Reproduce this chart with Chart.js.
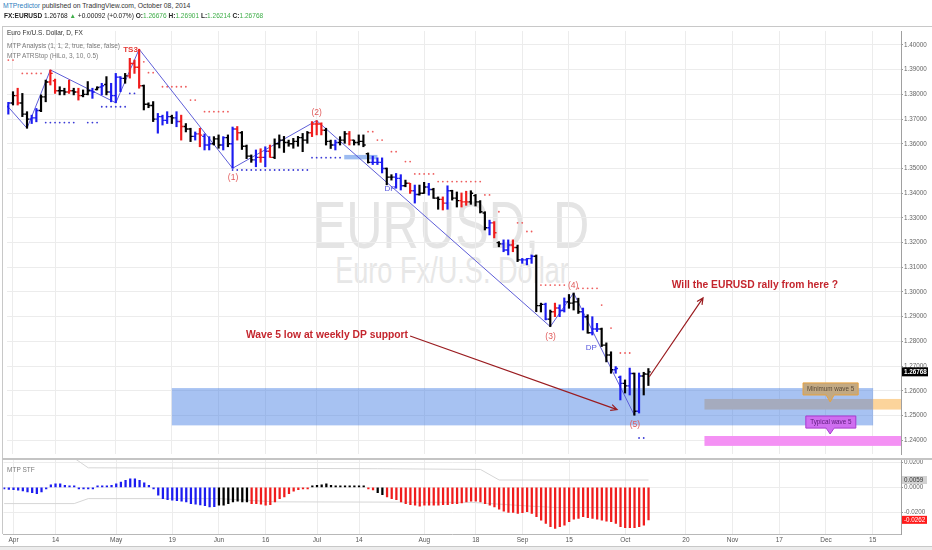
<!DOCTYPE html>
<html>
<head>
<meta charset="utf-8">
<title>EURUSD, D</title>
<script src="https://cdn.jsdelivr.net/npm/chart.js@4.4.1/dist/chart.umd.min.js"></script>
<style>
  html, body { margin: 0; padding: 0; }
  body { width: 932px; height: 550px; overflow: hidden; position: relative; background: #fff;
         font-family: "Liberation Sans", Arial, sans-serif; }
  .txt { position: absolute; white-space: nowrap; line-height: 1; }
  .rule { position: absolute; }
  #hdr1 { left: 3px; top: 2.6px; font-size: 6.8px; color: #333; }
  #hdr1 span { color: #2f80c0; }
  #hdr2 { left: 4px; top: 13.4px; font-size: 6.55px; color: #222; }
  #hdr2 .g { color: #3fae49; }
  #wm1 { left: 451px; top: 224px; font-size: 67px; color: #e4e4e4; transform: translate(-50%, -50%) scaleX(0.75); }
  #wm2 { left: 452px; top: 271px; font-size: 37.7px; color: #e7e7e7; transform: translate(-50%, -50%) scaleX(0.72); }
  .leg { left: 7px; font-size: 6.5px; color: #7a7a7a; }
  #priceChart { position: absolute; left: 3px; top: 27px; }
  #stfChart { position: absolute; left: 3px; top: 459px; }
</style>
</head>
<body>
<div id="wm1" class="txt">EURUSD, D</div>
<div id="wm2" class="txt">Euro Fx/U.S. Dollar</div>

<canvas id="priceChart" width="929" height="431"></canvas>
<canvas id="stfChart" width="929" height="88"></canvas>

<div id="hdr1" class="txt"><span>MTPredictor</span> published on TradingView.com, October 08, 2014</div>
<div id="hdr2" class="txt"><b>FX:EURUSD</b> 1.26768 <span class="g">▲</span> +0.00092 (+0.07%) <b>O:</b><span class="g">1.26676</span> <b>H:</b><span class="g">1.26901</span> <b>L:</b><span class="g">1.26214</span> <b>C:</b><span class="g">1.26768</span></div>
<div class="txt leg" style="top:30px;color:#333">Euro Fx/U.S. Dollar, D, FX</div>
<div class="txt leg" style="top:43.4px">MTP Analysis (1, 1, 2, true, false, false)</div>
<div class="txt leg" style="top:53px">MTP ATRStop (HiLo, 3, 10, 0.5)</div>
<div class="txt leg" style="top:466.8px">MTP STF</div>

<div class="rule" style="left:2px;top:26px;width:930px;height:1px;background:#c8c8c8"></div>
<div class="rule" style="left:2px;top:26px;width:1px;height:508px;background:#c8c8c8"></div>
<div class="rule" style="left:2px;top:457.5px;width:930px;height:2px;background:#c4c4c4"></div>
<div class="rule" style="left:0;top:546px;width:932px;height:4px;background:#ececec;border-top:1px solid #c8c8c8"></div>

<script>
// ================= DATA =================
// x positions are bar numbers: 0 = Mar 28 2014, 138 = Oct 08 2014
const tickIdx = [2, 11, 24, 36, 46, 56, 67, 76, 90, 101, 111, 121, 133, 146, 156, 166, 176, 186];
const tickLabels = ["Apr", "14", "May", "19", "Jun", "16", "Jul", "14", "Aug", "18", "Sep", "15", "Oct", "20", "Nov", "17", "Dec", "15"];
const priceTicks = [1.24, 1.25, 1.26, 1.27, 1.28, 1.29, 1.30, 1.31, 1.32, 1.33, 1.34, 1.35, 1.36, 1.37, 1.38, 1.39, 1.40];
const stfTicks = [0.02, 0, -0.02];

const openP = [
  1.3710, 1.3750, 1.3765, 1.3795, 1.3765, 1.3720, 1.3700, 1.3705, 1.3735, 1.3790,
  1.3850, 1.3855, 1.3815, 1.3815, 1.3810, 1.3815, 1.3810, 1.3795, 1.3800, 1.3815,
  1.3820, 1.3830, 1.3840, 1.3810, 1.3795, 1.3870, 1.3865, 1.3875, 1.3925, 1.3910,
  1.3835, 1.3760, 1.3755, 1.3700, 1.3710, 1.3695, 1.3710, 1.3705, 1.3690, 1.3670,
  1.3660, 1.3630, 1.3640, 1.3630, 1.3595, 1.3600, 1.3620, 1.3595, 1.3625, 1.3600,
  1.3660, 1.3645, 1.3590, 1.3550, 1.3535, 1.3545, 1.3545, 1.3570, 1.3545, 1.3600,
  1.3615, 1.3605, 1.3600, 1.3610, 1.3625, 1.3615, 1.3645, 1.3680, 1.3680, 1.3655,
  1.3610, 1.3595, 1.3605, 1.3615, 1.3640, 1.3615, 1.3605, 1.3610, 1.3560, 1.3525,
  1.3525, 1.3525, 1.3500, 1.3465, 1.3465, 1.3460, 1.3430, 1.3440, 1.3410, 1.3395,
  1.3400, 1.3425, 1.3415, 1.3380, 1.3375, 1.3360, 1.3410, 1.3380, 1.3370, 1.3365,
  1.3365, 1.3390, 1.3365, 1.3320, 1.3260, 1.3280, 1.3200, 1.3195, 1.3170, 1.3190,
  1.3180, 1.3130, 1.3130, 1.3135, 1.3145, 1.2945, 1.2950, 1.2890, 1.2920, 1.2935,
  1.2925, 1.2960, 1.2955, 1.2960, 1.2920, 1.2900, 1.2835, 1.2850, 1.2850, 1.2785,
  1.2745, 1.2685, 1.2655, 1.2630, 1.2620, 1.2670, 1.2517, 1.2660, 1.26676
];
const highP = [
  1.3770, 1.3768, 1.3811, 1.3825, 1.3804, 1.3730, 1.3716, 1.3743, 1.3798, 1.3858,
  1.3899, 1.3862, 1.3831, 1.3825, 1.3858, 1.3825, 1.3825, 1.3818, 1.3852, 1.3825,
  1.3831, 1.3845, 1.3872, 1.3845, 1.3885, 1.3872, 1.3885, 1.3946, 1.3939, 1.3983,
  1.3838, 1.3766, 1.3771, 1.3723, 1.3716, 1.3730, 1.3716, 1.3730, 1.3716, 1.3682,
  1.3663, 1.3648, 1.3663, 1.3640, 1.3629, 1.3629, 1.3636, 1.3629, 1.3636, 1.3668,
  1.3670, 1.3650, 1.3595, 1.3555, 1.3575, 1.3580, 1.3588, 1.3595, 1.3620, 1.3636,
  1.3630, 1.3615, 1.3622, 1.3630, 1.3642, 1.3650, 1.3690, 1.3694, 1.3685, 1.3663,
  1.3615, 1.3615, 1.3629, 1.3650, 1.3650, 1.3615, 1.3636, 1.3636, 1.3563, 1.3550,
  1.3543, 1.3543, 1.3502, 1.3475, 1.3480, 1.3475, 1.3453, 1.3440, 1.3433, 1.3433,
  1.3444, 1.3440, 1.3420, 1.3385, 1.3385, 1.3430, 1.3412, 1.3405, 1.3401, 1.3408,
  1.3410, 1.3395, 1.3370, 1.3325, 1.3291, 1.3285, 1.3204, 1.3211, 1.3211, 1.3211,
  1.3190, 1.3136, 1.3136, 1.3150, 1.3150, 1.2955, 1.2955, 1.2927, 1.2955, 1.2948,
  1.2976, 1.2990, 1.2996, 1.2975, 1.2935, 1.2908, 1.2900, 1.2873, 1.2854, 1.2794,
  1.2758, 1.2698, 1.2660, 1.2644, 1.2692, 1.2672, 1.2672, 1.2675, 1.26901
];
const lowP = [
  1.3700, 1.3720, 1.3757, 1.3757, 1.3710, 1.3663, 1.3682, 1.3689, 1.3730, 1.3770,
  1.3838, 1.3804, 1.3798, 1.3798, 1.3804, 1.3798, 1.3777, 1.3790, 1.3798, 1.3784,
  1.3818, 1.3798, 1.3798, 1.3770, 1.3766, 1.3811, 1.3845, 1.3866, 1.3885, 1.3825,
  1.3737, 1.3746, 1.3690, 1.3643, 1.3676, 1.3682, 1.3682, 1.3669, 1.3615, 1.3648,
  1.3609, 1.3615, 1.3588, 1.3575, 1.3575, 1.3595, 1.3582, 1.3575, 1.3588, 1.3501,
  1.3615, 1.3577, 1.3540, 1.3525, 1.3507, 1.3525, 1.3507, 1.3545, 1.3540, 1.3583,
  1.3565, 1.3590, 1.3582, 1.3590, 1.3568, 1.3602, 1.3629, 1.3636, 1.3636, 1.3595,
  1.3581, 1.3575, 1.3595, 1.3602, 1.3595, 1.3595, 1.3595, 1.3588, 1.3522, 1.3516,
  1.3516, 1.3482, 1.3434, 1.3453, 1.3420, 1.3413, 1.3426, 1.3399, 1.3360, 1.3392,
  1.3399, 1.3392, 1.3379, 1.3335, 1.3332, 1.3335, 1.3372, 1.3344, 1.3344, 1.3351,
  1.3355, 1.3348, 1.3320, 1.3251, 1.3231, 1.3219, 1.3183, 1.3163, 1.3150, 1.3163,
  1.3123, 1.3116, 1.3110, 1.3116, 1.2920, 1.2919, 1.2887, 1.2860, 1.2900, 1.2900,
  1.2919, 1.2934, 1.2927, 1.2913, 1.2846, 1.2833, 1.2826, 1.2840, 1.2779, 1.2717,
  1.2671, 1.2671, 1.2563, 1.2591, 1.2583, 1.2501, 1.2510, 1.2583, 1.26214
];
const closeP = [
  1.3750, 1.3765, 1.3795, 1.3765, 1.3720, 1.3700, 1.3705, 1.3735, 1.3790, 1.3850,
  1.3885, 1.3815, 1.3815, 1.3810, 1.3815, 1.3810, 1.3795, 1.3800, 1.3815, 1.3810,
  1.3828, 1.3835, 1.3810, 1.3795, 1.3870, 1.3865, 1.3875, 1.3925, 1.3910, 1.3835,
  1.3760, 1.3755, 1.3700, 1.3710, 1.3695, 1.3710, 1.3705, 1.3690, 1.3670, 1.3660,
  1.3630, 1.3640, 1.3635, 1.3595, 1.3600, 1.3620, 1.3595, 1.3625, 1.3600, 1.3660,
  1.3645, 1.3590, 1.3550, 1.3535, 1.3545, 1.3545, 1.3570, 1.3545, 1.3600, 1.3615,
  1.3605, 1.3600, 1.3610, 1.3625, 1.3615, 1.3645, 1.3680, 1.3680, 1.3655, 1.3610,
  1.3595, 1.3605, 1.3615, 1.3640, 1.3615, 1.3605, 1.3610, 1.3595, 1.3525, 1.3525,
  1.3525, 1.3500, 1.3465, 1.3465, 1.3460, 1.3430, 1.3440, 1.3410, 1.3395, 1.3400,
  1.3425, 1.3415, 1.3380, 1.3375, 1.3360, 1.3410, 1.3380, 1.3370, 1.3365, 1.3365,
  1.3400, 1.3365, 1.3325, 1.3260, 1.3280, 1.3240, 1.3195, 1.3170, 1.3190, 1.3180,
  1.3130, 1.3130, 1.3135, 1.3145, 1.2945, 1.2950, 1.2890, 1.2920, 1.2935, 1.2925,
  1.2960, 1.2955, 1.2960, 1.2920, 1.2900, 1.2835, 1.2850, 1.2850, 1.2785, 1.2745,
  1.2685, 1.2690, 1.2630, 1.2620, 1.2670, 1.2517, 1.2660, 1.2668, 1.26768
];
// bar colouring of the MTP study: b = blue, r = red, k = black
const barTone = ("bbkrkkbbkk rrkkrkrkkb kbkbbbkrrr kkkbbbkbrk kbrbbkkbkb rkkkbrbrkk " +
                 "kkkkkkrrrk kbkkrkkkkb bbkkbbkrbk kbkkrbkkrr kkkkbrkbbr kbbbkkbkrb " +
                 "bkkkbkbbkk kbbkbkbkk").replace(/ /g, "").split("");

// wave zigzag pivots [bar, price]
const zigzag = [[0, 1.3770], [5, 1.3663], [10, 1.3899], [24, 1.3766], [29, 1.3983],
                [49, 1.3501], [67, 1.3694], [117, 1.2860], [122, 1.2996], [135, 1.2501]];

// ATR stop levels [first bar, last bar, level]
const redStops = [[0, 2, 1.3939], [4, 8, 1.3885], [30, 30, 1.3932], [31, 32, 1.3888], [34, 39, 1.3831],
                  [40, 41, 1.3777], [43, 48, 1.3730], [78, 79, 1.3649], [80, 81, 1.3615], [83, 84, 1.3568],
                  [86, 87, 1.3528], [88, 92, 1.3478], [93, 102, 1.3447], [103, 104, 1.3393], [106, 106, 1.3325],
                  [110, 111, 1.3280], [112, 113, 1.3245], [115, 120, 1.3028], [123, 127, 1.3015],
                  [128, 128, 1.2947], [130, 130, 1.2854], [132, 134, 1.2753]];
const blueStops = [[9, 15, 1.3686], [18, 20, 1.3686], [21, 26, 1.3750], [27, 28, 1.3804],
                   [49, 65, 1.3494], [66, 72, 1.3544], [136, 137, 1.2409]];

// MTP STF histogram
const stf = [
  -0.0005, -0.0016, -0.0019, -0.0024, -0.0029, -0.0037, -0.0043, -0.0051, -0.0037, -0.0011,
  0.0021, 0.0029, 0.0029, 0.0016, 0.0003, 0.0001, -0.0004, -0.0004, -0.0003, -0.0002,
  0.0001, 0.0003, 0.0011, 0.0016, 0.0029, 0.0043, 0.0056, 0.0069, 0.0069, 0.0056,
  0.0037, 0.0016, -0.0011, -0.0064, -0.0091, -0.0099, -0.0103, -0.0107, -0.0112, -0.0117,
  -0.0131, -0.0136, -0.0142, -0.0148, -0.0157, -0.0155, -0.0144, -0.0144, -0.0131, -0.0117,
  -0.0112, -0.0117, -0.0117, -0.0131, -0.0131, -0.0136, -0.0144, -0.0139, -0.0117, -0.0091,
  -0.0077, -0.0051, -0.0032, -0.0019, -0.0011, -0.0005, 0.0008, 0.0016, 0.0021, 0.0029,
  0.0016, 0.0008, 0.0005, 0.0003, 0.0003, 0.0003, 0.0005, 0.0003, -0.0008, -0.0021,
  -0.0043, -0.0059, -0.0077, -0.0091, -0.0099, -0.0117, -0.0131, -0.0139, -0.0144, -0.0152,
  -0.0144, -0.0144, -0.0144, -0.0144, -0.0139, -0.0139, -0.0131, -0.0131, -0.0125, -0.0117,
  -0.0112, -0.0112, -0.0117, -0.0131, -0.0144, -0.0157, -0.0176, -0.0192, -0.0203, -0.0203,
  -0.0211, -0.0205, -0.0197, -0.0211, -0.0237, -0.0264, -0.0291, -0.0317, -0.0331, -0.0317,
  -0.0304, -0.0277, -0.0256, -0.0251, -0.0237, -0.0245, -0.0251, -0.0256, -0.0264, -0.0272,
  -0.0277, -0.0291, -0.0317, -0.0325, -0.0325, -0.0325, -0.0317, -0.0304, -0.0262
];
// colour runs of the histogram: [last bar of run, tone]
const stfToneRuns = [[45, "b"], [52, "k"], [65, "r"], [77, "k"], [79, "r"], [81, "k"], [138, "r"]];
// envelope lines [bar, value]
const upperBand = [[15, 0.0235], [18, 0.0157], [80, 0.0150], [102, 0.0144], [106, 0.0059], [138, 0.0059]];
const lowerBand = [[0, -0.0131], [15, -0.0131], [18, -0.0091], [46, -0.0091], [58, -0.0117], [100, -0.0121],
                   [112, -0.0150], [118, -0.0163], [138, -0.0163]];

// ================= PAGE SCALE =================
// where the reference puts its axes on the page
const pageX = { at: 3.656, perBar: 4.672 };                     // bar 0 at x=3.656, 4.672 px per bar
const pageY = { price: [1.40, 45, 2470], stf: [0, 487, 1250] }; // value, page y, px per unit
const barAt = px => (px - pageX.at) / pageX.perBar;
const valueAt = ([v0, y0, k], py) => v0 - (py - y0) / k;

// ================= DRAWINGS =================
const FONT = '"Liberation Sans", Arial, sans-serif';

const zones = [
  { from: 150, to: null, top: 1.2567, bottom: 1.2524, color: "#fcd49b" },
  { from: 150, to: null, top: 1.2417, bottom: 1.2377, color: "#f491f4" },
  { from: 72.9, to: 80.0, top: 1.3555, bottom: 1.3537, color: "#9dbcf1" },
  { from: 36, to: 186.1, top: 1.2611, bottom: 1.2460, color: "rgba(72,128,228,0.48)" },
];
const callouts = [
  { text: "Minimum wave 5", from: 171.1, to: 182.9, top: 1.2632, bottom: 1.2583, tip: [176.9, 1.2555],
    fill: "#c2a983", edge: "#e7a23e", ink: "#5a4a38" },
  { text: "Typical wave 5", from: 171.7, to: 182.4, top: 1.2498, bottom: 1.2449, tip: [176.9, 1.2425],
    fill: "#cf6ef0", edge: "#a83ad0", ink: "#5a1a7a" },
];
const arrows = [
  { from: [87.0, 1.2822], to: [131.3, 1.2524] },
  { from: [138.2, 1.2657], to: [149.7, 1.2976] },
];
const notes = [
  { text: "TS3", at: [27.15, 1.3980], color: "#e53935", font: "bold 8px" },
  { text: "(1)", at: [49.1, 1.3462], color: "#e05a5a", font: "8.5px" },
  { text: "(2)", at: [67, 1.3725], color: "#e05a5a", font: "8.5px" },
  { text: "(3)", at: [117.05, 1.2818], color: "#e05a5a", font: "8.5px" },
  { text: "(4)", at: [121.9, 1.3024], color: "#e05a5a", font: "8.5px" },
  { text: "(5)", at: [135.1, 1.2462], color: "#e05a5a", font: "8.5px" },
  { text: "DP", at: [82.7, 1.3417], color: "#5555dd", font: "8px" },
  { text: "DP", at: [125.8, 1.2773], color: "#5555dd", font: "8px" },
  { text: "Wave 5 low at weekly DP support", at: [69.2, 1.2826], color: "#c4262e", font: "bold 10.3px" },
  { text: "Will the EURUSD rally from here ?", at: [160.8, 1.3028], color: "#c4262e", font: "bold 10.3px" },
];

// ================= HELPERS =================
Chart.defaults.font.family = FONT;
const toneColor = { b: "#1c1cf0", r: "#f01c1c", k: "#000000" };
const runTone = (runs, i) => runs.find(([end]) => i <= end)[1];
const dots = segs => segs.flatMap(([a, b, v]) => {
  const pts = [];
  for (let i = a; i <= b; i++) pts.push({ x: i, y: v });
  return pts;
});
const pts = list => list.map(([x, y]) => ({ x, y }));
const clipArea = (ctx, a) => { ctx.beginPath(); ctx.rect(a.left, a.top, a.width, a.height); ctx.clip(); };

const xAxis = (withLabels) => ({
  type: "linear", min: -0.14, max: 192.07, offset: false,
  afterBuildTicks: ax => { ax.ticks = tickIdx.map(v => ({ value: v })); },
  afterFit: ax => { ax.height = withLabels ? 13 : 0; ax.paddingLeft = 0; ax.paddingRight = 0; },
  grid: { color: "#ececec", drawTicks: false, offset: false },
  border: { display: withLabels, color: "#b8b8b8" },
  ticks: { display: withLabels, autoSkip: false, maxRotation: 0, color: "#555", padding: 2,
           font: { size: 6.5 }, callback: (v, i) => tickLabels[i] },
});
const yAxis = (min, max, ticks, digits) => ({
  position: "right", min, max, beginAtZero: false,
  afterBuildTicks: ax => { ax.ticks = ticks.map(v => ({ value: v })); },
  afterFit: ax => { ax.width = 31; ax.paddingTop = 0; ax.paddingBottom = 0; },
  grid: { color: "#ececec", tickColor: "#999", tickLength: 2 },
  border: { color: "#a0a0a0" },
  ticks: { autoSkip: false, color: "#666", padding: 1, font: { size: 6.3 }, callback: v => v.toFixed(digits) },
});

// line both panes up with the reference page after layout
function calibrate(chart, canvasLeft, canvasTop, yRef) {
  const a = chart.chartArea;
  const { x, y } = chart.options.scales;
  x.min = barAt(canvasLeft + a.left);
  x.max = barAt(canvasLeft + a.right);
  y.max = valueAt(yRef, canvasTop + a.top);
  y.min = valueAt(yRef, canvasTop + a.bottom);
  chart.update();
}

// ================= PRICE PANE =================
const priceDrawings = {
  id: "priceDrawings",
  beforeDatasetsDraw(chart) {
    const { ctx, chartArea: a, scales: { x, y } } = chart;
    ctx.save();
    clipArea(ctx, a);
    zones.forEach(z => {
      const x0 = x.getPixelForValue(z.from);
      const x1 = z.to === null ? a.right : x.getPixelForValue(z.to);
      const y0 = y.getPixelForValue(z.top), y1 = y.getPixelForValue(z.bottom);
      ctx.fillStyle = z.color;
      ctx.fillRect(x0, y0, x1 - x0, y1 - y0);
    });
    ctx.restore();
  },
  afterDatasetsDraw(chart) {
    const { ctx, chartArea: a, scales: { x, y } } = chart;
    ctx.save();
    clipArea(ctx, a);

    // open and close ticks
    ctx.lineWidth = 1.4;
    closeP.forEach((c, i) => {
      const cx = x.getPixelForValue(i);
      const yo = y.getPixelForValue(openP[i]), yc = y.getPixelForValue(c);
      ctx.strokeStyle = toneColor[barTone[i]];
      ctx.beginPath();
      ctx.moveTo(cx - 2.3, yo); ctx.lineTo(cx, yo);
      ctx.moveTo(cx, yc); ctx.lineTo(cx + 2.3, yc);
      ctx.stroke();
    });

    // wave 5 target callouts
    callouts.forEach(c => {
      const x0 = x.getPixelForValue(c.from), x1 = x.getPixelForValue(c.to);
      const y0 = y.getPixelForValue(c.top), y1 = y.getPixelForValue(c.bottom);
      const tx = x.getPixelForValue(c.tip[0]), ty = y.getPixelForValue(c.tip[1]);
      ctx.fillStyle = c.fill; ctx.strokeStyle = c.edge; ctx.lineWidth = 1;
      ctx.beginPath();
      ctx.moveTo(x0, y0); ctx.lineTo(x1, y0); ctx.lineTo(x1, y1);
      ctx.lineTo(tx + 4, y1); ctx.lineTo(tx, ty); ctx.lineTo(tx - 4, y1);
      ctx.lineTo(x0, y1); ctx.closePath();
      ctx.fill(); ctx.stroke();
      ctx.fillStyle = c.ink; ctx.font = `6.3px ${FONT}`;
      ctx.textAlign = "center"; ctx.textBaseline = "middle";
      ctx.fillText(c.text, (x0 + x1) / 2, (y0 + y1) / 2 + 0.5);
    });

    // arrows
    ctx.strokeStyle = "#9a1c20"; ctx.lineWidth = 1.2;
    arrows.forEach(ar => {
      const x0 = x.getPixelForValue(ar.from[0]), y0 = y.getPixelForValue(ar.from[1]);
      const x1 = x.getPixelForValue(ar.to[0]), y1 = y.getPixelForValue(ar.to[1]);
      const ang = Math.atan2(y1 - y0, x1 - x0);
      ctx.beginPath();
      ctx.moveTo(x0, y0); ctx.lineTo(x1, y1);
      ctx.moveTo(x1 - 7 * Math.cos(ang - 0.45), y1 - 7 * Math.sin(ang - 0.45));
      ctx.lineTo(x1, y1);
      ctx.lineTo(x1 - 7 * Math.cos(ang + 0.45), y1 - 7 * Math.sin(ang + 0.45));
      ctx.stroke();
    });

    // text labels
    ctx.textAlign = "center"; ctx.textBaseline = "middle";
    notes.forEach(n => {
      ctx.font = `${n.font} ${FONT}`;
      ctx.fillStyle = n.color;
      ctx.fillText(n.text, x.getPixelForValue(n.at[0]), y.getPixelForValue(n.at[1]));
    });
    ctx.restore();
  },
  afterDraw(chart) {
    const { ctx, chartArea: a, scales: { y } } = chart;
    const last = closeP[closeP.length - 1];
    const yy = y.getPixelForValue(last);
    ctx.save();
    ctx.fillStyle = "#000";
    ctx.fillRect(a.right + 1, yy - 4.5, 26, 9);
    ctx.fillStyle = "#fff"; ctx.font = `bold 6.3px ${FONT}`;
    ctx.textAlign = "left"; ctx.textBaseline = "middle";
    ctx.fillText(last.toFixed(5), a.right + 3, yy + 0.5);
    ctx.restore();
  },
};

const priceChart = new Chart(document.getElementById("priceChart"), {
  type: "bar",
  data: {
    datasets: [
      { type: "bar", data: closeP.map((c, i) => ({ x: i, y: [lowP[i], highP[i]] })),
        backgroundColor: barTone.map(t => toneColor[t]), barThickness: 1.5, grouped: false, order: 0 },
      { type: "line", data: pts(zigzag), borderColor: "#5e5ed8", borderWidth: 1, pointRadius: 0, order: 1 },
      { type: "scatter", data: dots(redStops), pointRadius: 0.9, pointBorderWidth: 0,
        pointBackgroundColor: "#ee5c5c", order: 2 },
      { type: "scatter", data: dots(blueStops), pointRadius: 0.9, pointBorderWidth: 0,
        pointBackgroundColor: "#3a3ad6", order: 2 },
    ],
  },
  options: {
    responsive: false, animation: false, events: [],
    layout: { padding: 0 },
    plugins: { legend: { display: false }, tooltip: { enabled: false } },
    scales: { x: xAxis(false), y: yAxis(1.2328, 1.4073, priceTicks, 5) },
  },
  plugins: [priceDrawings],
});
calibrate(priceChart, 3, 27, pageY.price);

// ================= STF PANE =================
const stfTags = {
  id: "stfTags",
  afterDraw(chart) {
    const { ctx, chartArea: a, scales: { y } } = chart;
    const tag = (v, bg, fg) => {
      const yy = y.getPixelForValue(v);
      ctx.fillStyle = bg; ctx.fillRect(a.right + 1, yy - 4, 25, 8);
      ctx.fillStyle = fg; ctx.fillText(v.toFixed(4), a.right + 3, yy + 0.5);
    };
    ctx.save();
    ctx.font = `6.3px ${FONT}`; ctx.textAlign = "left"; ctx.textBaseline = "middle";
    tag(upperBand[upperBand.length - 1][1], "#d2d2d2", "#333");
    tag(stf[stf.length - 1], "#ff1a1a", "#fff");
    ctx.restore();
  },
};

const stfChart = new Chart(document.getElementById("stfChart"), {
  type: "bar",
  data: {
    datasets: [
      { type: "bar", data: stf.map((v, i) => ({ x: i, y: v })),
        backgroundColor: stf.map((v, i) => toneColor[runTone(stfToneRuns, i)]),
        barThickness: 1.6, minBarLength: 1.5, grouped: false, order: 0 },
      { type: "line", data: pts(upperBand), borderColor: "#d6d6d6", borderWidth: 1, pointRadius: 0, order: 1 },
      { type: "line", data: pts(lowerBand), borderColor: "#d6d6d6", borderWidth: 1, pointRadius: 0, order: 1 },
    ],
  },
  options: {
    responsive: false, animation: false, events: [],
    layout: { padding: 0 },
    plugins: { legend: { display: false }, tooltip: { enabled: false } },
    scales: { x: xAxis(true), y: yAxis(-0.0376, 0.0224, stfTicks, 4) },
  },
  plugins: [stfTags],
});
calibrate(stfChart, 3, 459, pageY.stf);
</script>
</body>
</html>
